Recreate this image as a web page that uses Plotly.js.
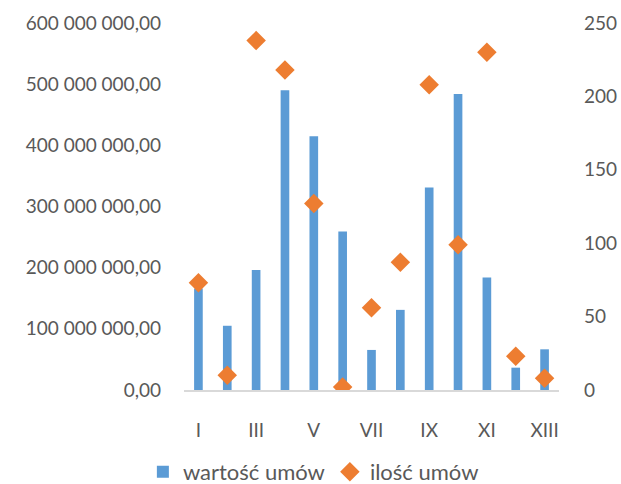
<!DOCTYPE html>
<html>
<head>
<meta charset="utf-8">
<script src="https://cdn.plot.ly/plotly-3.0.1.min.js"></script>
<style>html,body{margin:0;padding:0;background:#fff;}#chart{width:621px;height:484px;}</style>
</head>
<body>
<div id="chart"></div>
<script>
const categories = ["I","II","III","IV","V","VI","VII","VIII","IX","X","XI","XII","XIII"];
const tickLabels = ["I","III","V","VII","IX","XI","XIII"];
const wartoscUmow = [166000000,105000000,196000000,490000000,415000000,259000000,65500000,131000000,331000000,484000000,184000000,36500000,66500000];
const iloscUmow = [73,10,238,218,127,2,56,87,208,99,230,23,8];

const fontFam = "Lato, 'Open Sans', sans-serif";
const txtColor = "#595959";

const traces = [
  {
    type: "bar",
    name: "wartość umów",
    x: categories,
    y: wartoscUmow,
    marker: {color: "#5B9BD5"},
    width: 0.3,
    yaxis: "y"
  },
  {
    type: "scatter",
    mode: "markers",
    name: "ilość umów",
    x: categories,
    y: iloscUmow,
    marker: {symbol: "diamond", color: "#ED7D31", size: 15},
    yaxis: "y2"
  }
];

const layout = {
  width: 621,
  height: 484,
  margin: {l: 184, r: 62, t: 23, b: 94, autoexpand: false},
  paper_bgcolor: "#fff",
  plot_bgcolor: "#fff",
  separators: ", ",
  font: {family: fontFam, size: 19, color: txtColor},
  showlegend: true,
  legend: {
    orientation: "h",
    x: 0.345, xanchor: "center",
    y: -0.223, yanchor: "middle",
    font: {family: fontFam, size: 22, color: txtColor},
    itemwidth: 30,
    traceorder: "normal"
  },
  xaxis: {
    type: "category",
    categoryorder: "array",
    categoryarray: categories,
    range: [-0.5, 12.5],
    autorange: false,
    tickmode: "array",
    tickvals: tickLabels,
    ticktext: tickLabels,
    showgrid: false,
    zeroline: false,
    showline: true,
    linecolor: "#D9D9D9",
    linewidth: 2,
    ticks: "",
    automargin: false,
    ticklabelstandoff: 22,
    tickfont: {family: fontFam, size: 19, color: txtColor}
  },
  yaxis: {
    range: [0, 600000000],
    tickmode: "linear",
    tick0: 0,
    dtick: 100000000,
    tickformat: ",.2f",
    showgrid: false,
    zeroline: false,
    showline: false,
    ticks: "",
    automargin: false,
    ticklabelstandoff: 22,
    tickfont: {family: fontFam, size: 19, color: txtColor}
  },
  yaxis2: {
    overlaying: "y",
    side: "right",
    range: [0, 250],
    tickmode: "linear",
    tick0: 0,
    dtick: 50,
    showgrid: false,
    zeroline: false,
    showline: false,
    ticks: "",
    automargin: false,
    ticklabelstandoff: 24,
    tickfont: {family: fontFam, size: 19, color: txtColor}
  },
  bargap: 0.7
};

Plotly.newPlot("chart", traces, layout, {displayModeBar: false, staticPlot: true});
</script>
</body>
</html>
